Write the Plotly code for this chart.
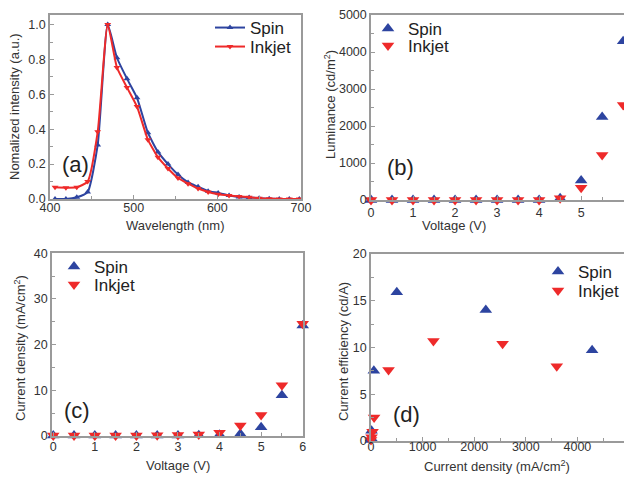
import plotly.graph_objects as go

# ---------------- data ----------------
# (a) EL spectra
wavelength = [406, 419, 432, 445, 457, 469, 480, 492, 504, 517, 529, 541, 553, 565, 577, 589, 601, 614, 626, 638, 650, 662, 674, 686, 698]
spin_spec = [0.0, 0.0, 0.01, 0.04, 0.31, 1.0, 0.81, 0.69, 0.58, 0.38, 0.27, 0.20, 0.14, 0.095, 0.07, 0.045, 0.035, 0.02, 0.012, 0.008, 0.005, 0.002, 0.0, 0.0, 0.0]
inkjet_spec = [0.067, 0.065, 0.067, 0.10, 0.385, 1.0, 0.754, 0.64, 0.53, 0.34, 0.24, 0.175, 0.12, 0.088, 0.06, 0.04, 0.027, 0.02, 0.015, 0.01, 0.005, 0.002, 0.0, 0.0, 0.0]

# (b) luminance vs voltage
voltage = [0, 0.5, 1, 1.5, 2, 2.5, 3, 3.5, 4, 4.5, 5, 5.5, 6]
spin_lum = [0, 0, 0, 0, 0, 0, 0, 0, 0, 50, 530, 2245, 4290]
inkjet_lum = [0, 0, 0, 0, 0, 0, 0, 0, 0, 50, 330, 1215, 2570]

# (c) current density vs voltage
spin_j = [0.1, 0.1, 0.1, 0.1, 0.1, 0.1, 0.1, 0.15, 0.3, 0.5, 1.9, 8.9, 24.2]
inkjet_j = [0.1, 0.1, 0.1, 0.1, 0.1, 0.15, 0.2, 0.35, 0.7, 2.3, 4.6, 11.1, 24.6]

# (d) current efficiency vs current density
spin_d_x = [0, 5, 10, 55, 500, 2225, 4285]
spin_d_y = [0.1, 0.3, 1.1, 7.5, 15.9, 14.0, 9.7]
inkjet_d_x = [0, 10, 30, 60, 340, 1210, 2550, 3600]
inkjet_d_y = [0.1, 0.4, 1.0, 2.5, 7.6, 10.7, 10.4, 8.0]

BLUE = "#2d44a0"
RED = "#ee2a2a"
FONT = "Liberation Sans, Arial, sans-serif"
TXT = "#333333"
AX = "#9a9a9a"

W, H = 624, 481

fig = go.Figure()


def series(x, y, name, color, symbol, xa, ya, leg, lines=False):
    if lines:
        fig.add_trace(go.Scatter(x=x, y=y, mode="lines+markers", name=name,
                                 line=dict(color=color, width=2, shape="spline", smoothing=0.5),
                                 marker=dict(symbol=symbol, size=6, color=color),
                                 xaxis=xa, yaxis=ya, legend=leg))
    else:
        fig.add_trace(go.Scatter(x=x, y=y, mode="markers", name=name, cliponaxis=False,
                                 marker=dict(symbol=symbol, size=11, color=color),
                                 xaxis=xa, yaxis=ya, legend=leg))


series(wavelength, spin_spec, "Spin", BLUE, "triangle-up", "x", "y", "legend", lines=True)
series(wavelength, inkjet_spec, "Inkjet", RED, "triangle-down", "x", "y", "legend2", lines=True)
series(voltage, spin_lum, "Spin", BLUE, "triangle-up", "x2", "y2", "legend3")
series(voltage, inkjet_lum, "Inkjet", RED, "triangle-down", "x2", "y2", "legend4")
series(voltage, spin_j, "Spin", BLUE, "triangle-up", "x3", "y3", "legend5")
series(voltage, inkjet_j, "Inkjet", RED, "triangle-down", "x3", "y3", "legend6")
series(spin_d_x, spin_d_y, "Spin", BLUE, "triangle-up", "x4", "y4", "legend7")
series(inkjet_d_x, inkjet_d_y, "Inkjet", RED, "triangle-down", "x4", "y4", "legend8")


def ax(domain, rng, dtick, minor, mirror=True, standoff=0):
    return dict(domain=domain, range=rng, dtick=dtick, tick0=0, ticks="inside", ticklen=4,
                tickcolor=AX, showline=True, linecolor=AX, linewidth=1.5, mirror=mirror,
                showgrid=False, zeroline=False, automargin=False, ticklabelstandoff=standoff,
                tickfont=dict(family=FONT, size=12.5, color=TXT),
                minor=dict(ticks="inside", ticklen=3, dtick=minor, tickcolor=AX, showgrid=False))


def px_x(p):
    return p / W


def px_y(p):
    return 1 - p / H


layout = dict(
    width=W, height=H, margin=dict(l=0, r=0, t=0, b=0),
    paper_bgcolor="white", plot_bgcolor="white",
    font=dict(family=FONT, color=TXT),
    xaxis=ax([px_x(50), px_x(301)], [400, 700], 100, 50, standoff=-4),
    yaxis=dict(ax([px_y(199), px_y(15)], [0, 1.055], 0.2, 0.1), tickformat=".1f"),
    xaxis2=dict(ax([px_x(371), 1.0], [0, 6.02], 1, 0.5), anchor="y2"),
    yaxis2=dict(ax([px_y(200), px_y(15)], [0, 5000], 1000, 500, mirror=False), anchor="x2"),
    xaxis3=dict(ax([px_x(52), px_x(302.7)], [-0.03, 6], 1, 0.5, standoff=-2), anchor="y3"),
    yaxis3=dict(ax([px_y(436), px_y(253.3)], [0, 40], 10, 5), anchor="x3"),
    xaxis4=dict(ax([px_x(371), 1.0], [0, 4903], 1000, 500, standoff=-7), anchor="y4"),
    yaxis4=dict(ax([px_y(441), px_y(254)], [0, 20], 5, 2.5, mirror=False), anchor="x4"),
    showlegend=True,
)

leg_common = dict(xanchor="left", yanchor="top", bgcolor="rgba(0,0,0,0)", borderwidth=0,
                  font=dict(family=FONT, size=17, color="#222222"), itemwidth=30, tracegroupgap=0)
leg_pos = {
    "legend": (210, 10), "legend2": (210, 29),
    "legend3": (368, 11), "legend4": (368, 28),
    "legend5": (54, 249), "legend6": (54, 267),
    "legend7": (538, 254), "legend8": (538, 273),
}
for k, (lx, ly) in leg_pos.items():
    layout[k] = dict(leg_common, x=px_x(lx), y=px_y(ly))

ann = []


def text(x, y, s, size=13, angle=0, color=TXT):
    ann.append(dict(x=px_x(x), y=px_y(y), xref="paper", yref="paper", text=s, showarrow=False,
                    textangle=angle, xanchor="center", yanchor="middle",
                    font=dict(family=FONT, size=size, color=color)))


# axis titles
text(175, 225, "Wavelength (nm)")
text(14, 107, "Nomalized intensity (a.u.)", angle=-90)
text(454, 225, "Voltage (V)")
text(330, 105, "Luminance (cd/m<sup>2</sup>)", angle=-90)
text(178, 465, "Voltage (V)")
text(20, 348, "Current density (mA/cm<sup>2</sup>)", angle=-90)
text(497, 466, "Current density (mA/cm<sup>2</sup>)")
text(343, 352, "Current efficiency (cd/A)", angle=-90)
# panel labels
text(75, 165, "(a)", size=22, color="#222222")
text(400, 167, "(b)", size=22, color="#222222")
text(77, 410, "(c)", size=22, color="#222222")
text(406, 414, "(d)", size=22, color="#222222")

layout["annotations"] = ann
fig.update_layout(**layout)
fig.write_html("out.html")
